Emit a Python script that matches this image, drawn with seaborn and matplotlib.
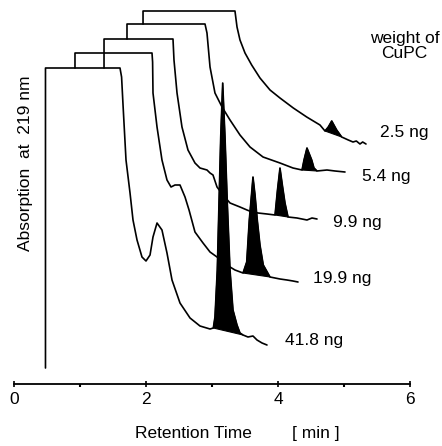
#! /usr/bin/env python3

import numpy as np
import pandas as pd
import matplotlib
matplotlib.use('agg')
import matplotlib.pyplot as plt
import seaborn as sns
sns.set_theme(context='notebook', style='ticks')
plt.rcParams['font.family'] = ['Liberation Sans', 'DejaVu Sans']

# --- samples (weight of CuPC), front trace first
samples = ['41.8 ng', '19.9 ng', '9.9 ng', '5.4 ng', '2.5 ng']

# --- retention time [min] and absorption [arb. units]
t_418 = [0.477, 0.477, 1.606, 1.630, 1.652, 1.697, 1.758, 1.803, 1.864, 1.939, 2.000,
         2.061, 2.106, 2.167, 2.242, 2.318, 2.394, 2.515, 2.667, 2.818, 2.970,
         3.020, 3.045, 3.080, 3.106, 3.132, 3.162, 3.197, 3.232, 3.273, 3.318,
         3.379, 3.424, 3.470, 3.545, 3.621, 3.682, 3.758, 3.833]
a_418 = [1.6, 31.6, 31.6, 30.7, 27.9, 22.4, 19.1, 16.4, 14.4, 12.7, 12.3,
         12.9, 14.7, 16.1, 15.4, 13.1, 10.4, 8.1, 6.6, 5.8, 5.5,
         5.6, 6.7, 11.4, 18.1, 24.7, 30.1, 24.7, 18.1, 11.4, 7.4,
         5.9, 5.1, 4.9, 4.7, 4.8, 4.4, 4.1, 3.9]

t_199 = [0.924, 0.924, 2.091, 2.100, 2.106, 2.167, 2.242, 2.318, 2.379, 2.439, 2.515,
         2.591, 2.652, 2.742, 2.864, 2.970, 3.076, 3.167, 3.273, 3.348, 3.470,
         3.526, 3.565, 3.598, 3.621, 3.652, 3.686, 3.727, 3.777, 3.879, 4.030,
         4.136, 4.227, 4.303]
a_199 = [31.6, 33.1, 33.1, 32.2, 29.1, 25.7, 22.4, 20.4, 19.7, 19.9, 19.9,
         18.7, 17.4, 15.2, 14.1, 13.2, 12.7, 12.2, 11.7, 11.4, 11.1,
         12.2, 16.4, 18.9, 20.7, 18.9, 16.4, 13.9, 11.9, 10.7, 10.5,
         10.4, 10.3, 10.2]

t_99 = [1.364, 1.364, 2.409, 2.424, 2.470, 2.545, 2.636, 2.742, 2.818, 2.924,
        2.970, 3.015, 3.076, 3.167, 3.273, 3.424, 3.530, 3.606, 3.697, 3.833,
        3.955, 3.992, 4.030, 4.068, 4.106, 4.152, 4.288, 4.439, 4.515, 4.591]
a_99 = [31.6, 34.5, 34.5, 32.4, 29.1, 25.7, 23.4, 22.1, 21.6, 21.4,
        21.1, 20.9, 19.7, 18.9, 18.1, 17.7, 17.4, 17.2, 17.1, 17.0,
        16.9, 19.4, 21.6, 19.8, 18.1, 16.7, 16.6, 16.4, 16.6, 16.5]

t_54 = [1.712, 1.712, 2.894, 2.924, 2.970, 3.045, 3.152, 3.273, 3.424, 3.576,
        3.773, 4.030, 4.227, 4.364, 4.394, 4.439, 4.511, 4.545, 4.591, 4.742,
        4.864, 5.015]
a_54 = [34.5, 36.0, 36.0, 35.1, 31.7, 29.1, 27.7, 26.4, 24.9, 23.7,
        22.7, 22.1, 21.6, 21.4, 22.4, 23.6, 22.4, 21.6, 21.3, 21.4,
        21.3, 21.2]

t_25 = [1.955, 1.955, 3.348, 3.379, 3.424, 3.500, 3.601, 3.727, 3.879, 4.030,
        4.232, 4.435, 4.636, 4.712, 4.762, 4.814, 4.889, 4.965, 5.065, 5.136,
        5.187, 5.242, 5.283, 5.333]
a_25 = [36.0, 37.3, 37.3, 35.7, 34.4, 33.1, 31.9, 30.6, 29.4, 28.6,
        27.6, 26.7, 25.9, 25.3, 25.7, 26.3, 25.4, 24.7, 24.4, 24.2,
        24.3, 24.0, 24.2, 24.0]

# --- CuPC peak windows [min] (shaded black)
peak_start = [3.020, 3.470, 3.955, 4.364, 4.712]
peak_end = [3.470, 3.879, 4.152, 4.591, 4.965]

times = [t_418, t_199, t_99, t_54, t_25]
absor = [a_418, a_199, a_99, a_54, a_25]


def main():

    frames = []
    for name, t, a in zip(samples, times, absor):
        frames.append(pd.DataFrame({'time': t, 'absorption': a, 'sample': name,
                                    'order': np.arange(len(t))}))
    df = pd.concat(frames, ignore_index=True)

    fig = plt.figure(figsize=(4.42, 4.46), dpi=100)
    ax = fig.add_axes([14/442, 62/446, 396/442, 384/446])

    sns.lineplot(data=df, x='time', y='absorption', units='sample',
                 estimator=None, sort=False, color='black', linewidth=1.2,
                 legend=False, ax=ax)

    # --- black peaks, closed by a straight drop baseline
    for name, t0, t1 in zip(samples, peak_start, peak_end):
        sub = df[(df['sample'] == name) & (df['time'] >= t0) & (df['time'] <= t1)]
        ax.fill(sub['time'], sub['absorption'], color='black', lw=0.8, zorder=3)

    # --- sample labels
    label_xy = [(4.11, 4.4), (4.53, 10.5), (4.83, 16.1), (5.27, 20.8), (5.55, 25.2)]
    for name, (lx, ly) in zip(samples, label_xy):
        ax.text(lx, ly, name, ha='left', va='center', fontsize=12.5, color='black')
    ax.text(5.92, 33.8, 'weight of\nCuPC', ha='center', va='center',
            fontsize=12.5, color='black', linespacing=1.05)

    ax.set_xlim(0, 6)
    ax.set_ylim(0, 38.4)
    ax.set_yticks([])
    for side in ['left', 'top', 'right']:
        ax.spines[side].set_visible(False)
    ax.spines['bottom'].set_color('black')
    ax.spines['bottom'].set_linewidth(1.3)
    ax.set_xticks([0, 2, 4, 6])
    ax.set_xticks([1, 3, 5], minor=True)
    ax.tick_params(axis='x', which='major', direction='inout', length=5, width=1.2,
                   colors='black', pad=3, labelsize=12.5)
    ax.tick_params(axis='x', which='minor', direction='out', length=2, width=1.5,
                   colors='black')

    ax.set_xlabel('Retention Time', fontsize=12.5, color='black')
    ax.xaxis.set_label_coords(0.452, -0.109)
    ax.text(0.763, -0.109, '[ min ]', transform=ax.transAxes, ha='center', va='top',
            fontsize=12.5, color='black')
    ax.set_ylabel('Absorption  at  219 nm', fontsize=12.5, color='black')
    ax.yaxis.set_label_coords(0.048, 0.576)

    plt.savefig('out.png', dpi=100)
    plt.close(fig)


if __name__ == "__main__":
    main()
